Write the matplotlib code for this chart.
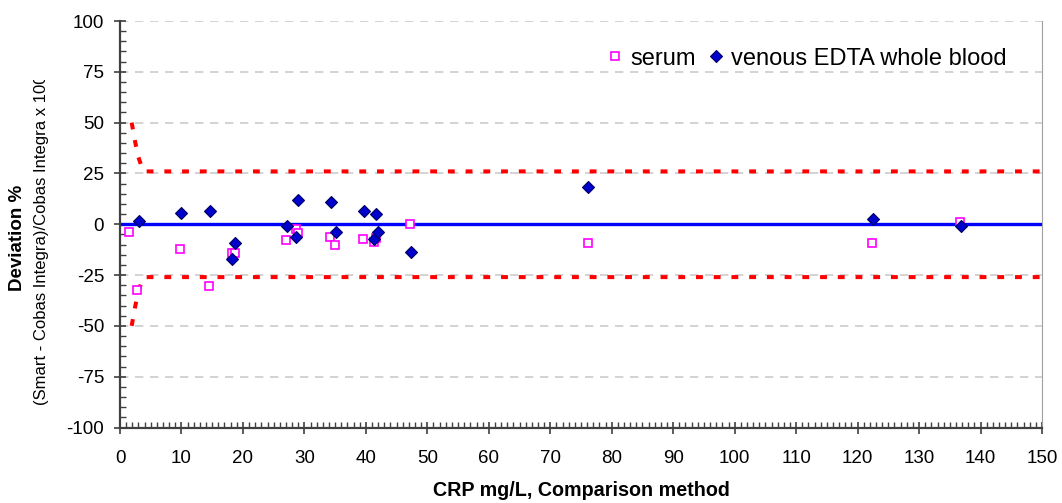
import matplotlib
matplotlib.use("Agg")
import matplotlib.pyplot as plt
from matplotlib.ticker import MultipleLocator
from matplotlib.transforms import Bbox, TransformedBbox

plt.rcParams['font.family'] = ['Liberation Sans', 'DejaVu Sans']
plt.rcParams['axes.unicode_minus'] = False

# ---- data ----
serum_x = [1.4, 2.8, 9.8, 14.5, 18.2, 18.7, 27.0, 28.6, 28.9, 34.1, 35.0, 39.5, 41.3, 41.7, 47.1, 76.2, 122.4, 136.7]
serum_y = [-4.0, -32.5, -12.3, -30.2, -13.9, -13.9, -7.7, -2.5, -4.2, -6.2, -10.0, -7.2, -8.6, -6.6, 0.3, -9.1, -9.2, 1.2]

edta_x = [3.1, 9.9, 14.6, 18.3, 18.7, 27.1, 28.6, 28.9, 34.3, 35.1, 39.7, 41.4, 41.6, 41.9, 47.3, 76.2, 122.5, 136.8]
edta_y = [1.6, 5.3, 6.7, -17.0, -9.0, -0.7, -6.2, 12.1, 11.1, -3.7, 6.7, -7.2, 5.2, -3.7, -13.6, 18.5, 2.7, -0.7]

upper_x = [1.9, 2.5, 3.0, 3.5, 3.9, 150]
upper_y = [50, 40, 33, 28.5, 26, 26]
lower_x = upper_x
lower_y = [-v for v in upper_y]

zero_x = [0, 150]
zero_y = [0, 0]

xticks = list(range(0, 151, 10))
yticks = list(range(-100, 101, 25))

# ---- figure ----
fig = plt.figure(figsize=(10.62, 5.03), dpi=100)
ax = fig.add_axes([120/1062, 1-427.5/503, 922/1062, 406.5/503])

ax.set_xlim(0, 150)
ax.set_ylim(-100, 100)

for yv in yticks:
    if yv in (-100, 0):
        continue
    ax.axhline(yv, color='#cccccc', lw=1.2, linestyle=(0, (5, 4)), zorder=1)

ax.plot(zero_x, zero_y, color='#0000ff', lw=2.4, zorder=2, solid_capstyle='butt')
ax.plot(upper_x, upper_y, color='#ff0000', lw=2.9, linestyle=(0, (1.7, 2.7)), zorder=3)
ax.plot(lower_x, lower_y, color='#ff0000', lw=2.9, linestyle=(0, (1.7, 2.7)), zorder=3)

ax.plot(serum_x, serum_y, linestyle='none', marker='s', markersize=6,
        markerfacecolor='white', markeredgecolor='#ff00ff', markeredgewidth=1.2,
        zorder=4, label='serum', clip_on=False)
ax.plot(edta_x, edta_y, linestyle='none', marker='D', markersize=6.5,
        markerfacecolor='#0000cc', markeredgecolor='#000060', markeredgewidth=0.8,
        zorder=5, label='venous EDTA whole blood', clip_on=False)

ax.set_xticks(xticks)
ax.set_yticks(yticks)
ax.xaxis.set_minor_locator(MultipleLocator(1))
ax.yaxis.set_minor_locator(MultipleLocator(5))
ax.tick_params(axis='both', which='major', direction='inout', length=9, width=1.2,
               color='#404040', labelsize=13.5)
ax.tick_params(axis='x', which='major', pad=12)
ax.tick_params(axis='y', which='major', pad=7)
ax.tick_params(axis='both', which='minor', direction='in', length=4, width=1,
               color='#404040')

for s in ('left', 'bottom'):
    ax.spines[s].set_color('#404040')
    ax.spines[s].set_linewidth(1.6)
ax.spines['top'].set_visible(False)
ax.spines['right'].set_color('#a0a0a0')
ax.spines['right'].set_linewidth(0.8)

ax.set_xlabel('CRP mg/L, Comparison method', fontsize=14.2, fontweight='bold', labelpad=10)

fig.text(17.5/1062, 1-238/503, 'Deviation %', rotation=90, ha='center', va='center',
         fontsize=13.5, fontweight='bold')
t = fig.text(42/1062, 1-405/503, '(Smart - Cobas Integra)/Cobas Integra x 100', rotation=90,
             ha='center', va='bottom', fontsize=12.0, clip_on=True)
t.set_clip_box(TransformedBbox(Bbox([[0, 0], [1, 1-80/503]]), fig.transFigure))

leg = ax.legend(loc='upper right', bbox_to_anchor=(0.98, 0.975), frameon=False, ncol=2,
                fontsize=17, handletextpad=0.15, columnspacing=0.36, handlelength=1.0,
                borderaxespad=0.3)

fig.savefig('out.png', dpi=100)
